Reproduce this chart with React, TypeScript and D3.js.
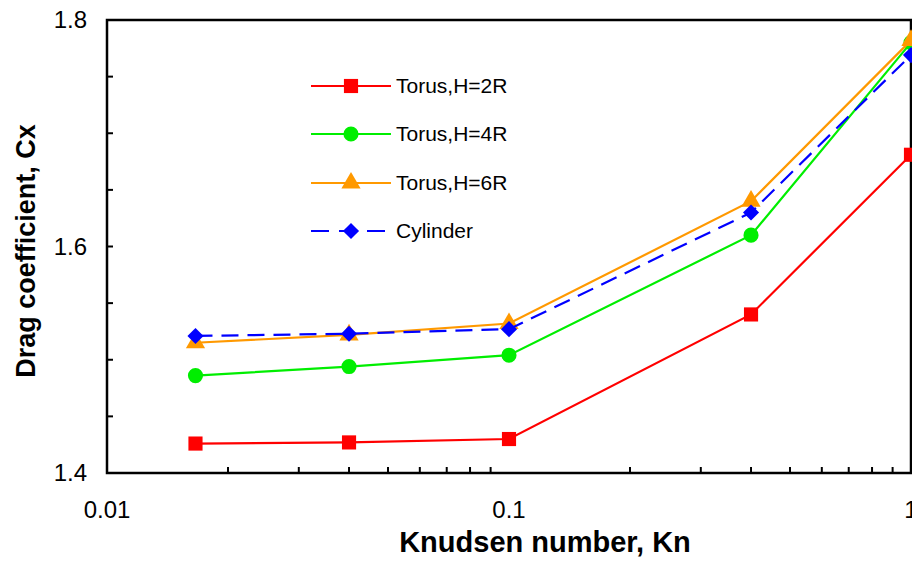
import React, { useEffect, useRef } from 'react';
import * as d3 from 'd3';

const knudsen = [0.0166, 0.04, 0.1, 0.4, 1];
const torus2R = [1.426, 1.427, 1.430, 1.540, 1.681];
const torus4R = [1.486, 1.494, 1.504, 1.610, 1.780];
const torus6R = [1.515, 1.522, 1.532, 1.640, 1.782];
const cylinder = [1.521, 1.523, 1.527, 1.630, 1.769];

const seriesNames = ['Torus,H=2R', 'Torus,H=4R', 'Torus,H=6R', 'Cylinder'];
const seriesColors = ['#ff0000', '#00ee00', '#ff9900', '#0000ff'];
const seriesSymbols = [d3.symbolSquare, d3.symbolCircle, d3.symbolTriangle, d3.symbolSquare];
const symbolSizes = [200, 180, 160, 130];
const symbolRotate = [0, 0, 0, 45];

const yTickLabels = [1.4, 1.6, 1.8];
const xTickLabels = [0.01, 0.1, 1];

const W = 912;
const H = 566;

const App: React.FC = () => {
  const svgRef = useRef<SVGSVGElement>(null);

  useEffect(() => {
    if (!svgRef.current) return;
    const root = d3.select(svgRef.current);
    root.selectAll('*').remove();

    const left = 107, right = 911, top = 20, bottom = 473;
    const x = d3.scaleLog().domain([0.01, 1]).range([left, right]);
    const y = d3.scaleLinear().domain([1.4, 1.8]).range([bottom, top]);
    const font = 'Liberation Sans, Arial, sans-serif';

    const g = root.append('g');

    // minor ticks (inward)
    const yMinor = d3.range(1.4, 1.8001, 0.05);
    g.selectAll('.ytick').data(yMinor).enter().append('line')
      .attr('x1', left).attr('x2', left + 6)
      .attr('y1', d => y(d)).attr('y2', d => y(d))
      .attr('stroke', '#000').attr('stroke-width', 2);

    const xMinor: number[] = [];
    [0.01, 0.1].forEach(dec => { for (let k = 2; k <= 9; k++) xMinor.push(dec * k); });
    g.selectAll('.xtick').data(xMinor).enter().append('line')
      .attr('x1', d => x(d)).attr('x2', d => x(d))
      .attr('y1', bottom).attr('y2', bottom - 6)
      .attr('stroke', '#000').attr('stroke-width', 2);

    // frame
    g.append('rect')
      .attr('x', left).attr('y', top)
      .attr('width', right - left).attr('height', bottom - top)
      .attr('fill', 'none').attr('stroke', '#000').attr('stroke-width', 2.5);

    // tick labels
    g.selectAll('.ylab').data(yTickLabels).enter().append('text')
      .attr('x', left - 20).attr('y', d => y(d) + 8)
      .attr('text-anchor', 'end').attr('font-family', font).attr('font-size', 24)
      .text(d => d.toFixed(1));

    g.selectAll('.xlab').data(xTickLabels).enter().append('text')
      .attr('x', d => x(d)).attr('y', bottom + 45)
      .attr('text-anchor', 'middle').attr('font-family', font).attr('font-size', 24)
      .text(d => String(d));

    // axis titles
    g.append('text')
      .attr('x', 545).attr('y', 552)
      .attr('text-anchor', 'middle').attr('font-family', font)
      .attr('font-size', 29).attr('font-weight', 'bold')
      .text('Knudsen number, Kn');

    g.append('text')
      .attr('transform', 'translate(35, 251) rotate(-90)')
      .attr('text-anchor', 'middle').attr('font-family', font)
      .attr('font-size', 27).attr('font-weight', 'bold')
      .text('Drag coefficient, Cx');

    const allSeries = [torus2R, torus4R, torus6R, cylinder];
    const line = d3.line<number>()
      .x((_, i) => x(knudsen[i]))
      .y(d => y(d));

    allSeries.forEach((vals, si) => {
      const color = seriesColors[si];
      g.append('path')
        .attr('d', line(vals))
        .attr('fill', 'none')
        .attr('stroke', color)
        .attr('stroke-width', 2.2)
        .attr('stroke-dasharray', si === 3 ? '17,9' : null);
      const sym = d3.symbol().type(seriesSymbols[si]).size(symbolSizes[si]);
      g.selectAll(`.m${si}`).data(vals).enter().append('path')
        .attr('d', sym())
        .attr('transform', (d, i) => `translate(${x(knudsen[i])}, ${y(d)}) rotate(${symbolRotate[si]})`)
        .attr('fill', color);
    });

    // legend
    const legendY = [86, 134, 183, 231];
    seriesNames.forEach((name, si) => {
      const color = seriesColors[si];
      const ly = legendY[si];
      g.append('line')
        .attr('x1', 311).attr('x2', 391)
        .attr('y1', ly).attr('y2', ly)
        .attr('stroke', color).attr('stroke-width', 2.2)
        .attr('stroke-dasharray', si === 3 ? '18,10' : null);
      const sym = d3.symbol().type(seriesSymbols[si]).size(symbolSizes[si]);
      g.append('path')
        .attr('d', sym())
        .attr('transform', `translate(351, ${ly}) rotate(${symbolRotate[si]})`)
        .attr('fill', color);
      g.append('text')
        .attr('x', 396).attr('y', ly + 7)
        .attr('font-family', font).attr('font-size', 21)
        .text(name);
    });
  }, []);

  return (
    <svg ref={svgRef} width={W} height={H}
      style={{ position: 'absolute', left: 0, top: 0, background: '#fff' }} />
  );
};

export default App;
